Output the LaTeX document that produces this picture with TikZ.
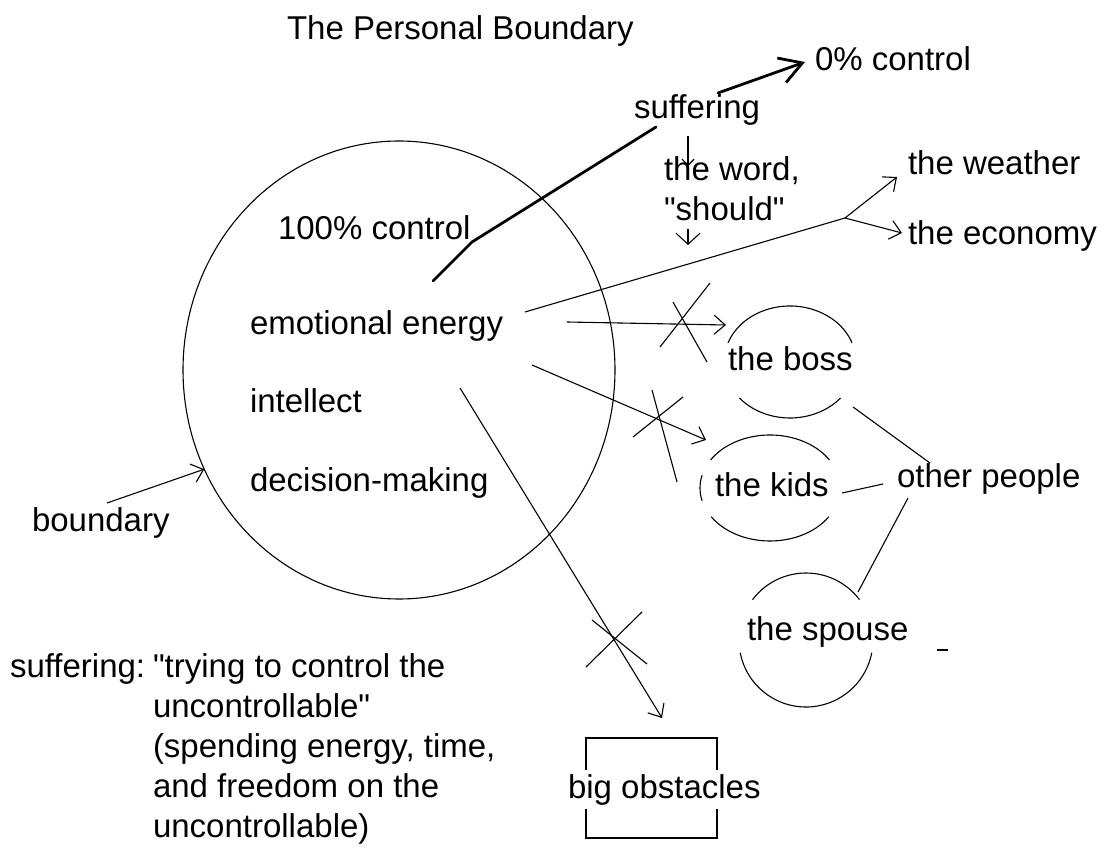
\documentclass[tikz,border=0pt]{standalone}
\usepackage{fontspec}
\setmainfont{Liberation Sans}[Ligatures=TeXOff]
\usetikzlibrary{arrows.meta,shapes.geometric}
\begin{document}
\begin{tikzpicture}[x=1pt,y=-1pt,
  txt/.style={font=\fontsize{33}{38}\selectfont, inner sep=0pt, outer sep=0pt, anchor=base west},
  thinl/.style={line width=1.1pt},
  thickl/.style={line width=2.8pt, line cap=round, line join=round},
  arr/.style={thinl, -{Straight Barb[length=11pt,width=19pt,line width=1.1pt]}},
  smallarr/.style={thinl, -{Straight Barb[length=6pt,width=12pt,line width=1.1pt]}},
  widearr/.style={thinl, -{Straight Barb[length=11pt,width=24pt,line width=1.1pt]}},
  bigarr/.style={thickl, -{Straight Barb[length=22pt,width=26pt,line width=2.8pt]}},
  crossl/.style={thinl}
]
\fill[white] (0,0) rectangle (1104,858);
\useasboundingbox (0,0) rectangle (1104,858);

% boundary ellipse
\node[draw, thinl, ellipse, minimum width=432pt, minimum height=458pt, inner sep=0pt, outer sep=0pt] (bnd) at (399,370) {};

% texts
\node[txt] (title) at (287,40) {The Personal Boundary};
\node[txt] (zero) at (815,71) {0\% control};
\node[txt] (suf) at (634,119) {suffering};
\node[txt] (word) at (664,181) {the word,};
\node[txt] (should) at (664,221) {"should"};
\node[txt] (weather) at (908,175) {the weather};
\node[txt] (economy) at (908,245) {the economy};
\node[txt] (hundred) at (278,240) {100\% control};
\node[txt] (emo) at (250,335) {emotional energy};
\node[txt] (intel) at (250,413) {intellect};
\node[txt] (dec) at (250,492) {decision-making};
\node[txt] (blabel) at (32,532) {boundary};
\node[txt] (boss) at (728,371) {the boss};
\node[txt] (kids) at (715,497) {the kids};
\node[txt] (other) at (897,488) {other people};
\node[txt] (spouse) at (747,640) {the spouse};

\node[txt] (sufdef) at (10,677) {suffering:};
\node[txt] (l1) at (153,677) {"trying to control the};
\node[txt] (l2) at (153,717) {uncontrollable"};
\node[txt] (l3) at (153,757) {(spending energy, time,};
\node[txt] (l4) at (153,797) {and freedom on the};
\node[txt] (l5) at (153,837) {uncontrollable)};

% big obstacles box
\coordinate (bx0) at (586,738);
\coordinate (bx1) at (717,838);
\draw[thinl] (bx0) rectangle (bx1);
\node[txt, fill=white, inner ysep=4pt] (obst) at (568,798) {big obstacles};

% thick line suffering
\coordinate (a1) at (433,281);
\coordinate (a2) at (472,242);
\coordinate (a3) at (656,127);
\draw[thickl] (a1) -- (a2) -- (a3);
\coordinate (a4) at (718,93);
\coordinate (a5) at (805,62);
\draw[bigarr] (a4) -- (a5);

% suffering -> word -> should
\coordinate (s1) at (688,136);
\coordinate (s2) at (688,166);
\draw[smallarr] (s1) -- (s2);
\coordinate (s3) at (688,229);
\coordinate (s4) at (688,245);
\draw[widearr] (s3) -- (s4);

% emotional energy -> weather / economy
\coordinate (e0) at (525,312);
\coordinate (fork) at (845,218);
\coordinate (wt) at (897,177);
\coordinate (et) at (902,233);
\draw[thinl] (e0) -- (fork);
\draw[arr] (fork) -- (wt);
\draw[arr] (fork) -- (et);

% -> boss
\coordinate (b0) at (567,322);
\coordinate (b1) at (726,325);
\draw[arr] (b0) -- (b1);
\coordinate (c1a) at (673,302); \coordinate (c1b) at (707,362);
\coordinate (c1c) at (660,347); \coordinate (c1d) at (710,283);
\draw[crossl] (c1a) -- (c1b);
\draw[crossl] (c1c) -- (c1d);

% -> kids
\coordinate (k0) at (532,365);
\coordinate (k1) at (706,440);
\draw[arr] (k0) -- (k1);
\coordinate (c2a) at (652,390); \coordinate (c2b) at (677,482);
\coordinate (c2c) at (633,437); \coordinate (c2d) at (683,397);
\draw[crossl] (c2a) -- (c2b);
\draw[crossl] (c2c) -- (c2d);

% -> big obstacles
\coordinate (o0) at (460,388);
\coordinate (o1) at (662,718);
\draw[arr] (o0) -- (o1);
\coordinate (c3a) at (592,620); \coordinate (c3b) at (647,664);
\coordinate (c3c) at (586,667); \coordinate (c3d) at (642,612);
\draw[crossl] (c3a) -- (c3b);
\draw[crossl] (c3c) -- (c3d);

% boundary label arrow
\coordinate (bl0) at (107,503);
\draw[arr] (bl0) -- (bnd.207);

% boss arcs
\coordinate (bc) at (790,362);
\draw[thinl] ([shift={(160:66pt and 56pt)}]bc) arc[start angle=160, end angle=20, x radius=66pt, y radius=56pt];
\draw[thinl] ([shift={(220:66pt and 56pt)}]bc) arc[start angle=220, end angle=320, x radius=66pt, y radius=56pt];

% kids arcs
\coordinate (kc) at (770,488);
\draw[thinl] ([shift={(148:70pt and 53pt)}]kc) arc[start angle=148, end angle=32, x radius=70pt, y radius=53pt];
\draw[thinl] ([shift={(213:70pt and 53pt)}]kc) arc[start angle=213, end angle=327, x radius=70pt, y radius=53pt];
\draw[thinl] ([shift={(166:70pt and 53pt)}]kc) arc[start angle=166, end angle=194, x radius=70pt, y radius=53pt];

% spouse arcs
\coordinate (sc) at (806,640);
\draw[thinl] ([shift={(143:67pt)}]sc) arc[start angle=143, end angle=37, radius=67pt];
\draw[thinl] ([shift={(191:67pt)}]sc) arc[start angle=191, end angle=349, radius=67pt];

% lines to other people
\coordinate (p1) at (853,407); \coordinate (p1e) at (930,463);
\coordinate (p2) at (842,493); \coordinate (p2e) at (883,484);
\coordinate (p3) at (858,592); \coordinate (p3e) at (908,498);
\draw[thinl] (p1) -- (p1e);
\draw[thinl] (p2) -- (p2e);
\draw[thinl] (p3) -- (p3e);

% small dash
\coordinate (d0) at (937,650); \coordinate (d1) at (948,650);
\draw[thinl] (d0) -- (d1);
\end{tikzpicture}
\end{document}
